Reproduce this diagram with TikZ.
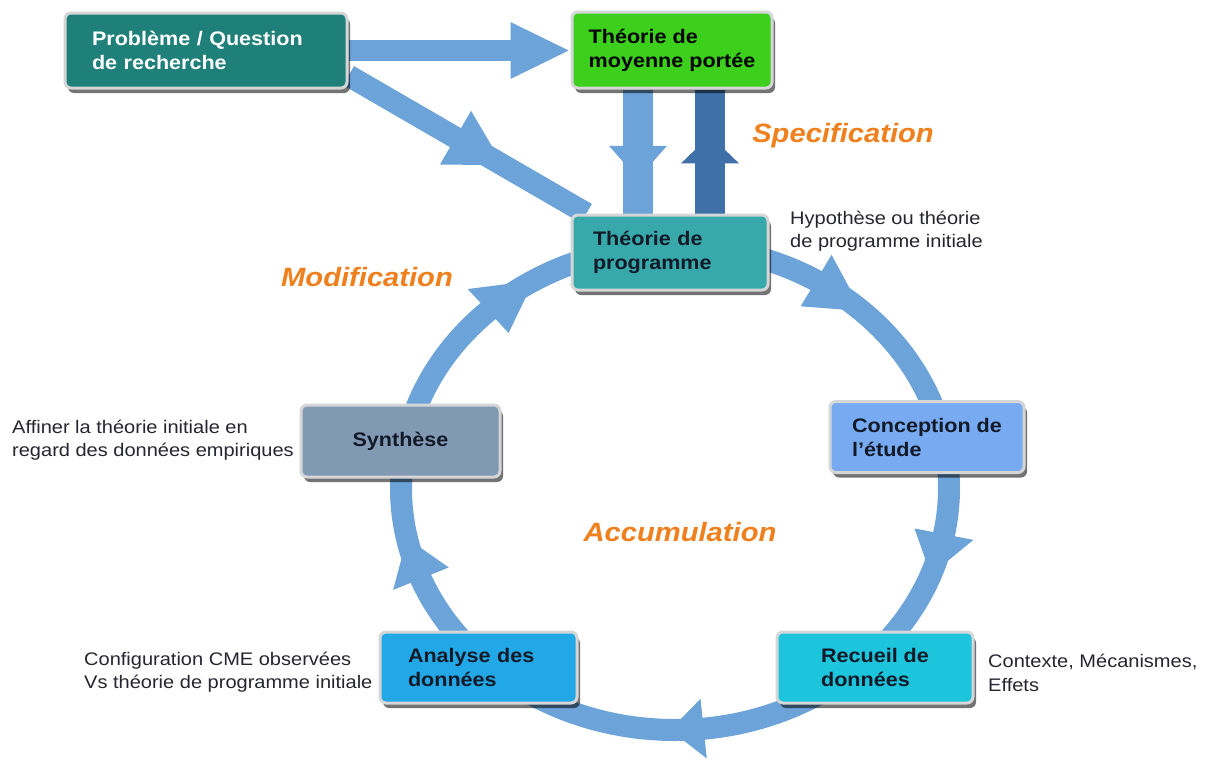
\documentclass[tikz,border=0pt]{standalone}
\usepackage{fontspec}
\setmainfont{Liberation Sans}[FakeStretch=1.1]
\usetikzlibrary{shadows,arrows.meta,decorations.markings}
\pgfdeclarelayer{bg}
\pgfsetlayers{bg,main}
\definecolor{ringc}{HTML}{6CA3D8}
\definecolor{darkarr}{HTML}{3F70A8}
\definecolor{probc}{HTML}{1F807A}
\definecolor{moyc}{HTML}{3CCF1C}
\definecolor{progc}{HTML}{38A9AA}
\definecolor{concc}{HTML}{78AAF2}
\definecolor{recc}{HTML}{1CC4DC}
\definecolor{anac}{HTML}{22A8E6}
\definecolor{sync}{HTML}{8299B4}
\definecolor{orangec}{HTML}{F0801E}
\definecolor{txtc}{HTML}{121A28}
\definecolor{notec}{HTML}{262630}
\definecolor{boxborder}{HTML}{D4D6D8}
\tikzset{
  box/.style={draw=boxborder, line width=3pt, rounded corners=6pt, inner sep=0pt, align=left,
    font=\fontsize{19.6}{24}\selectfont\bfseries, text=txtc,
    drop shadow={shadow xshift=3pt, shadow yshift=-5pt, opacity=0.55, fill=black}},
  note/.style={inner sep=0pt, align=left, text=notec, font=\fontsize{18.2}{23.5}\selectfont},
  phase/.style={inner sep=0pt, text=orangec, font=\fontsize{26.5}{30}\selectfont\bfseries\itshape},
  band/.style={draw=ringc, line width=#1},
  midhead/.style n args={4}{postaction={decorate, decoration={markings,
      mark=at position #1 with {\fill[#4] (-#2,-#3) -- (0pt,0pt) -- (-#2,#3) -- cycle;}}}},
}
\begin{document}
\begin{tikzpicture}[x=1pt,y=-1pt]
\useasboundingbox (0,0) rectangle (1208,763);
% boxes
\node[box, fill=probc, text=white, minimum width=282pt, minimum height=75pt, text width=228pt] (prob) at (206,50.5) {Problème / Question\\de recherche};
\node[box, fill=moyc, text=black, minimum width=200pt, minimum height=76pt] (moy) at (672,50) {Théorie de\\moyenne portée};
\node[box, fill=progc, minimum width=196pt, minimum height=75pt, text width=154pt] (prog) at (670,252.5) {Théorie de\\programme};
\node[box, fill=concc, minimum width=194pt, minimum height=71pt] (conc) at (927,437) {Conception de\\l’étude};
\node[box, fill=recc, minimum width=196pt, minimum height=71pt] (rec) at (875,667.5) {Recueil de\\données};
\node[box, fill=anac, minimum width=197pt, minimum height=71pt, text width=141pt] (ana) at (478.5,667.5) {Analyse des\\données};
\node[box, fill=sync, minimum width=199pt, minimum height=72pt, align=center] (syn) at (400.5,441) {Synthèse};
% notes
\node[note, anchor=west] (n1) at (790,231) {Hypothèse ou théorie\\de programme initiale};
\node[note, anchor=west] (n2) at (12,440) {Affiner la théorie initiale en\\regard des données empiriques};
\node[note, anchor=west] (n3) at (84,672) {Configuration CME observées\\Vs théorie de programme initiale};
\node[note, anchor=west] (n4) at (988,673) {Contexte, Mécanismes,\\Effets};
% phases
\node[phase] (spec) at (843,136) {Specification};
\node[phase] (modif) at (367,277) {Modification};
\node[phase] (accu) at (680,532) {Accumulation};
\begin{pgfonlayer}{bg}
  \fill[white] (0,0) rectangle (1208,763);
  \draw[band=22pt] (675,488) ellipse [x radius=274pt, y radius=242pt];
  \foreach \tb/\tt in {59/47,-11/-21,-84/-91,-158/-168,133/121}
    \fill[ringc] ({675+304*cos(\tb)},{488-272*sin(\tb)}) -- ({675+244*cos(\tb)},{488-212*sin(\tb)}) -- ({675+274*cos(\tt)},{488-242*sin(\tt)}) -- cycle;
  \draw[band=21pt, -{Triangle[length=60pt,width=52pt]}] (prob.east) -- (prob.east -| moy.west);
  \draw[band=22pt, midhead={0.65}{55pt}{31pt}{ringc}] (prob.-10) -- (prog.155.7);
  \draw[band=30pt, midhead={0.72}{33pt}{29pt}{ringc}] ([xshift=-34pt]moy.south) -- ([xshift=-32pt]prog.north);
  \draw[band=30pt, draw=darkarr, midhead={0.63}{28pt}{29pt}{darkarr}] ([xshift=40pt]prog.north) -- ([xshift=38pt]moy.south);
\end{pgfonlayer}
\end{tikzpicture}
\end{document}
